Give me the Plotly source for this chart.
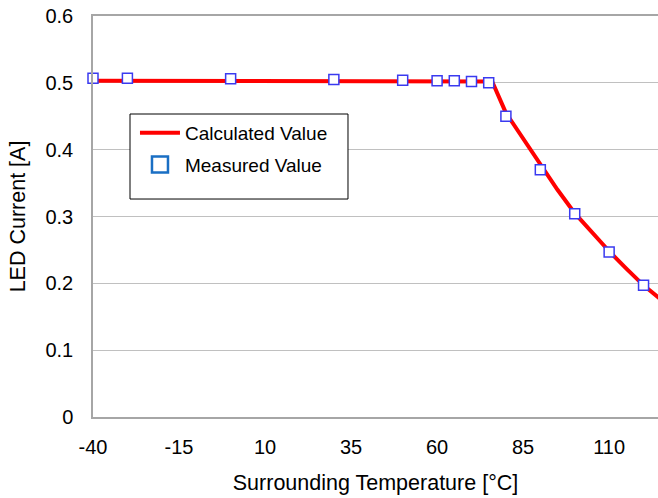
import plotly.graph_objects as go

calc_temp = [-40, 76, 80, 85, 90, 95, 100, 105, 110, 115, 120, 125]
calc_current = [0.503, 0.502, 0.455, 0.416, 0.378, 0.340, 0.305, 0.276, 0.248, 0.222, 0.197, 0.176]

meas_temp = [-40, -30, 0, 30, 50, 60, 65, 70, 75, 80, 90, 100, 110, 120]
meas_current = [0.507, 0.507, 0.506, 0.505, 0.504, 0.503, 0.503, 0.502, 0.500, 0.450, 0.370, 0.304, 0.247, 0.197]

x_ticks = [-40, -15, 10, 35, 60, 85, 110]
x_tick_text = ["-40", "-15", "10", "35", "60", "85", "110"]
y_ticks = [0, 0.1, 0.2, 0.3, 0.4, 0.5, 0.6]
y_tick_text = ["0", "0.1", "0.2", "0.3", "0.4", "0.5", "0.6"]

FONT = "Liberation Sans, Arial, sans-serif"

fig = go.Figure()
fig.add_trace(go.Scatter(
    x=calc_temp, y=calc_current, mode="lines", name="Calculated Value",
    line=dict(color="#ff0000", width=4), legendgroup="a"))
fig.add_trace(go.Scatter(
    x=meas_temp, y=meas_current, mode="markers", name="Measured Value",
    marker=dict(symbol="square", size=10, color="white",
                line=dict(color="#3a3af0", width=1.5)),
    showlegend=False, cliponaxis=False))
fig.add_trace(go.Scatter(
    x=[None], y=[None], mode="markers", name="Measured Value",
    marker=dict(symbol="square", size=16, color="white",
                line=dict(color="#1a6fc4", width=2.5)), legendgroup="b"))

# legend frame (wider than the auto-sized legend box)
fig.add_shape(type="rect", xref="paper", yref="paper",
              x0=0.0655, x1=0.4513, y0=0.5436, y1=0.7556,
              line=dict(color="#000000", width=1), fillcolor="white",
              layer="above")

fig.update_layout(
    width=658, height=498,
    margin=dict(l=93, r=0, t=16, b=81),
    paper_bgcolor="white", plot_bgcolor="white",
    font=dict(family=FONT, size=20, color="#000000"),
    showlegend=True,
    legend=dict(x=0.0743, y=0.7556, xanchor="left", yanchor="top",
                bgcolor="rgba(0,0,0,0)", borderwidth=0,
                font=dict(size=19, family=FONT), tracegroupgap=4,
                itemwidth=40),
    xaxis=dict(range=[-40, 124.2], tickvals=x_ticks, ticktext=x_tick_text,
               showgrid=False, automargin=False, ticklabeloverflow="allow",
               zeroline=False, showline=True, linecolor="#a6a6a6", linewidth=1.5,
               mirror=True, ticks="", ticklabelstandoff=11,
               title=dict(text="Surrounding Temperature [°C]", standoff=18,
                          font=dict(size=21.5))),
    yaxis=dict(range=[0, 0.6], tickvals=y_ticks, ticktext=y_tick_text,
               showgrid=True, gridcolor="#c0c0c0", gridwidth=1.3, automargin=False,
               ticklabeloverflow="allow",
               zeroline=False, showline=True, linecolor="#a6a6a6", linewidth=1.5,
               ticks="", ticklabelstandoff=14,
               title=dict(text="LED Current [A]", standoff=14,
                          font=dict(size=21.5))),
)

fig.write_html(
    "out.html",
    config={"displayModeBar": False},
    post_script="document.body.style.margin='0';document.body.style.overflow='hidden';",
)
